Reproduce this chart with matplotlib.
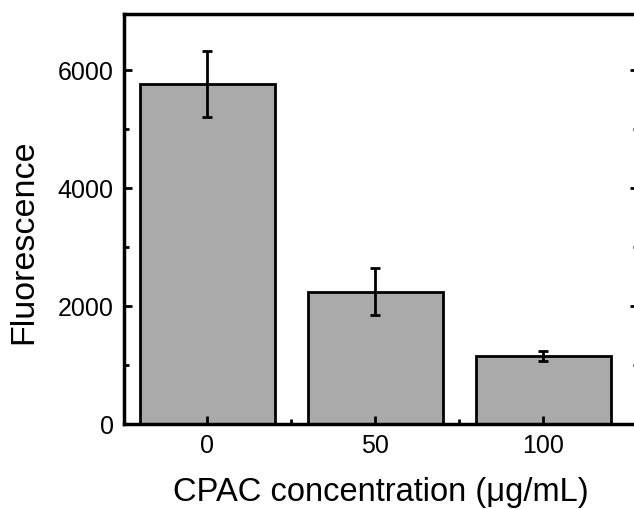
"""
CPAC concentration vs Fluorescence bar chart
"""
import numpy as np
import matplotlib
matplotlib.use("Agg")
import matplotlib.pyplot as plt
from matplotlib.ticker import MultipleLocator

plt.rcParams["font.family"] = ["Liberation Sans", "DejaVu Sans"]

# data
conc_labels = ["0", "50", "100"]
fluor = [5760, 2240, 1160]
fluor_err = [560, 400, 85]

x = np.arange(len(conc_labels))

fig = plt.figure(figsize=(6.34, 5.09), dpi=100)
ax = fig.add_axes([123.5 / 634, 1 - 424 / 509, (638 - 123.5) / 634, (424 - 13.5) / 509])

ax.bar(x, fluor, width=0.8, color="#aaaaaa", edgecolor="black", linewidth=2)
ax.errorbar(x, fluor, yerr=fluor_err, fmt="none", ecolor="black",
            elinewidth=2, capsize=3.5, capthick=2)

ax.set_xlim(-0.5, 2.563)
ax.set_ylim(0, 6960)
ax.set_xticks(x)
ax.set_xticklabels(conc_labels)
ax.xaxis.set_minor_locator(plt.FixedLocator([0.5, 1.5]))
ax.yaxis.set_major_locator(MultipleLocator(2000))
ax.yaxis.set_minor_locator(MultipleLocator(1000))

ax.tick_params(which="both", direction="in", right=True, top=False,
               width=2, labelsize=18, pad=7)
ax.tick_params(which="major", length=6)
ax.tick_params(which="minor", length=3.5)

for s in ax.spines.values():
    s.set_linewidth(2.5)

ax.set_xlabel("CPAC concentration (\u03bcg/mL)", fontsize=23.5, labelpad=14)
ax.set_ylabel("Fluorescence", fontsize=24.5, labelpad=13)
ax.yaxis.label.set_y(0.443)

fig.savefig("out.png", dpi=100)
